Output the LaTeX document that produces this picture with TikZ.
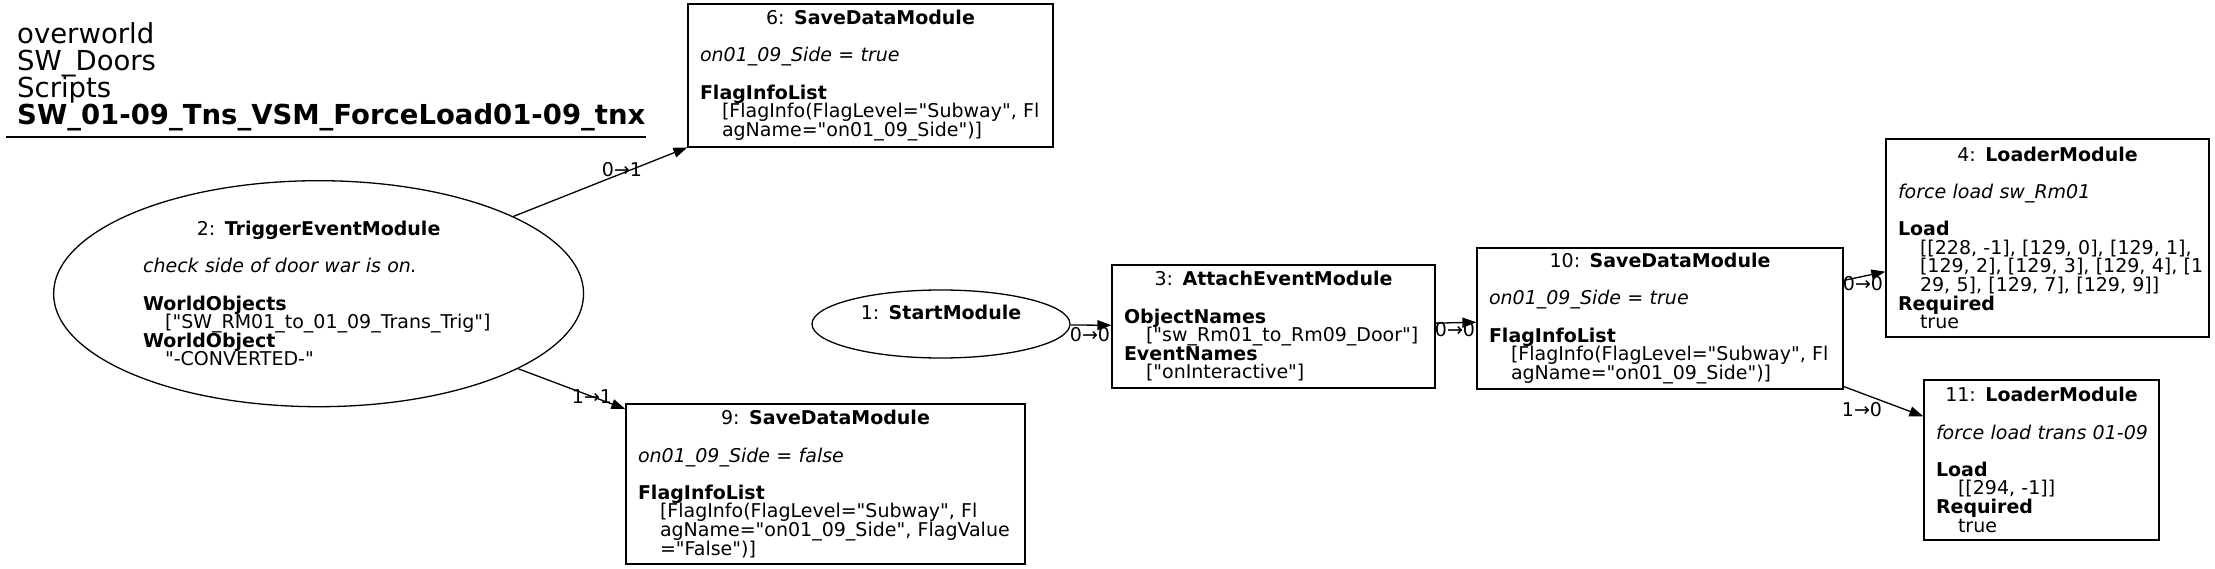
\documentclass[tikz,border=0pt]{standalone}
\usepackage{fontspec}
\setmainfont{DejaVu Sans}[Ligatures=TeXOff]
\usetikzlibrary{positioning, shapes.geometric, arrows.meta, calc}

\newcommand\bodyfont{\fontsize{19}{18.6}\selectfont\lineskiplimit=-50pt\relax}
\newcommand\headfont{\fontsize{27.5}{27.2}\selectfont\lineskiplimit=-50pt\relax}
\newcommand\mtitle[2]{\hfill\mbox{#1: \textbf{#2}}\hfill\null}
\newcommand\mdoc[1]{\mbox{\itshape #1}}
\newcommand\mkey[1]{\mbox{\bfseries #1}}
\newcommand\mval[1]{\hspace*{22pt}\mbox{#1}}
\newcommand\mgap{\\[\baselineskip]}

\begin{document}
\begin{tikzpicture}[
  x=1pt, y=-1pt,
  module/.style={
    rectangle, draw, line width=1.3pt, align=left,
    inner xsep=12pt, inner ysep=0pt, font=\bodyfont,
  },
  oval/.style={
    ellipse, draw, line width=1.3pt, align=left,
    inner sep=0pt, font=\bodyfont,
  },
  link/.style={-{Triangle[length=14pt, width=10pt]}, line width=1.3pt},
  elabel/.style={font=\bodyfont, inner sep=0pt},
]
\useasboundingbox (0,0) rectangle (2215,569);

% Script path, top left, with its rule.
\node[font=\headfont, align=left, anchor=base west, inner sep=0pt] (title) at (17,125)
  {overworld\\SW\_Doors\\Scripts\\\textbf{SW\_01-09\_Tns\_VSM\_ForceLoad01-09\_tnx}};
\draw[line width=1.3pt] (6,137) -- (646,137);

% Modules, placed where the layout put them.
\node[oval, text width=351pt, minimum width=530pt, minimum height=226pt] (n2) at (318.6,293.7)
  {\mtitle{2}{TriggerEventModule}\mgap
   \mdoc{check side of door war is on.}\mgap
   \mkey{WorldObjects}\\
   \mval{["SW\_RM01\_to\_01\_09\_Trans\_Trig"]}\\
   \mkey{WorldObject}\\
   \mval{"-CONVERTED-"}};
\node[oval, text width=168pt, minimum width=258pt, minimum height=68pt] (n1) at (941,324)
  {\mtitle{1}{StartModule}\\\strut};
\node[module, text width=341pt, minimum height=143pt] (n6) at (870.5,75.5)
  {\mtitle{6}{SaveDataModule}\mgap
   \mdoc{on01\_09\_Side = true}\mgap
   \mkey{FlagInfoList}\\
   \mval{[FlagInfo(FlagLevel="Subway", Fl}\\
   \mval{agName="on01\_09\_Side")]}};
\node[module, text width=375pt, minimum height=160pt] (n9) at (825.5,484)
  {\mtitle{9}{SaveDataModule}\mgap
   \mdoc{on01\_09\_Side = false}\mgap
   \mkey{FlagInfoList}\\
   \mval{[FlagInfo(FlagLevel="Subway", Fl}\\
   \mval{agName="on01\_09\_Side", FlagValue}\\
   \mval{="False")]}};
\node[module, text width=299pt, minimum height=123pt] (n3) at (1273.5,326.5)
  {\mtitle{3}{AttachEventModule}\mgap
   \mkey{ObjectNames}\\
   \mval{["sw\_Rm01\_to\_Rm09\_Door"]}\\
   \mkey{EventNames}\\
   \mval{["onInteractive"]}};
\node[module, text width=342pt, minimum height=141pt] (n10) at (1660,318.5)
  {\mtitle{10}{SaveDataModule}\mgap
   \mdoc{on01\_09\_Side = true}\mgap
   \mkey{FlagInfoList}\\
   \mval{[FlagInfo(FlagLevel="Subway", Fl}\\
   \mval{agName="on01\_09\_Side")]}};
\node[module, text width=299pt, minimum height=198pt] (n4) at (2047.5,238)
  {\mtitle{4}{LoaderModule}\mgap
   \mdoc{force load sw\_Rm01}\mgap
   \mkey{Load}\\
   \mval{[[228, -1], [129, 0], [129, 1],}\\
   \mval{[129, 2], [129, 3], [129, 4], [1}\\
   \mval{29, 5], [129, 7], [129, 9]]}\\
   \mkey{Required}\\
   \mval{true}};
\node[module, text width=211pt, minimum height=160pt] (n11) at (2041.5,460)
  {\mtitle{11}{LoaderModule}\mgap
   \mdoc{force load trans 01-09}\mgap
   \mkey{Load}\\
   \mval{[[294, -1]]}\\
   \mkey{Required}\\
   \mval{true}};

% Connectors and their port labels.
\draw[link] (n2) -- (n6);
\draw[link] (n2) -- (n9);
\draw[link] (n1) -- (n3);
\draw[link] (n3) -- (n10);
\draw[link] (n10) -- (n4);
\draw[link] (n10) -- (n11);
\node[elabel] (l26) at (622,170) {0→1};
\node[elabel] (l29) at (592,397) {1→1};
\node[elabel] (l13) at (1090,335) {0→0};
\node[elabel] (l310) at (1455,330) {0→0};
\node[elabel] (l104) at (1863,284) {0→0};
\node[elabel] (l1011) at (1862,410) {1→0};
\end{tikzpicture}
\end{document}
